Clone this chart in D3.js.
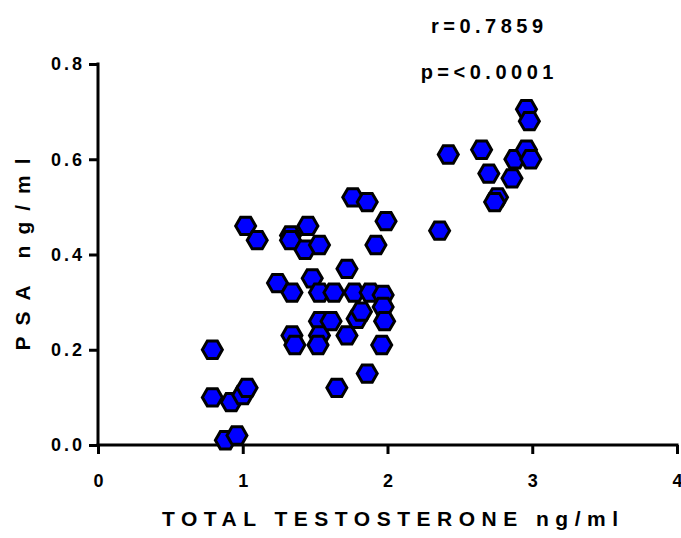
<!DOCTYPE html>
<html>
<head>
<meta charset="utf-8">
<script src="https://cdn.jsdelivr.net/npm/d3@7"></script>
<style>
  html, body { margin: 0; padding: 0; background: #fff; }
  text { font-family: "Liberation Sans", Arial, sans-serif; font-weight: bold; }
</style>
</head>
<body>
<div id="chart"></div>
<script>
// total testosterone (ng/ml) vs PSA (ng/ml)
const testosterone = [
  0.79, 0.79, 0.92, 1.00, 1.03, 0.88, 0.96, 1.02, 1.10, 1.24,
  1.33, 1.33, 1.34, 1.34, 1.36, 1.45, 1.43, 1.53, 1.48, 1.53,
  1.53, 1.53, 1.52, 1.61, 1.63, 1.65, 1.72, 1.72, 1.77, 1.76,
  1.79, 1.82, 1.86, 1.86, 1.88, 1.92, 1.99, 1.97, 1.97, 1.98,
  1.96, 2.36, 2.42, 2.65, 2.70, 2.76, 2.74, 2.86, 2.88, 2.96,
  2.99, 2.96, 2.98
];
const psa = [
  0.20, 0.10, 0.09, 0.105, 0.12, 0.01, 0.02, 0.46, 0.43, 0.34,
  0.44, 0.43, 0.32, 0.23, 0.21, 0.46, 0.41, 0.42, 0.35, 0.32,
  0.26, 0.23, 0.21, 0.26, 0.32, 0.12, 0.37, 0.23, 0.32, 0.52,
  0.265, 0.28, 0.15, 0.51, 0.32, 0.42, 0.47, 0.315, 0.29, 0.26,
  0.21, 0.45, 0.61, 0.62, 0.57, 0.52, 0.51, 0.56, 0.60, 0.62,
  0.60, 0.705, 0.68
];
const xTicks = [0, 1, 2, 3, 4];
const yTicks = [0.0, 0.2, 0.4, 0.6, 0.8];
const statLines = ["r=0.7859", "p=<0.0001"];

const width = 681, height = 538;
const margin = { top: 64, right: 4, bottom: 93, left: 98 };

const svg = d3.select('#chart').append('svg')
  .attr('width', width)
  .attr('height', height);

const x = d3.scaleLinear().domain([0, 4]).range([margin.left, width - margin.right]);
const y = d3.scaleLinear().domain([0, 0.8]).range([height - margin.bottom, margin.top]);

// axes
const tickSpacing = 3;
const xAxis = svg.append('g')
  .attr('transform', `translate(0,${y(0)})`)
  .call(d3.axisBottom(x).tickValues(xTicks).tickFormat(d3.format('d')).tickSize(9).tickPadding(20));
const yAxis = svg.append('g')
  .attr('transform', `translate(${x(0)},0)`)
  .call(d3.axisLeft(y).tickValues(yTicks).tickFormat(d3.format('.1f')).tickSize(9).tickPadding(4));

[xAxis, yAxis].forEach(g => {
  g.select('.domain').attr('stroke', '#000').attr('stroke-width', 3)
    .attr('stroke-linecap', 'square');
  g.selectAll('.tick line').attr('stroke', '#000').attr('stroke-width', 3);
  g.selectAll('.tick text')
    .attr('fill', '#000')
    .style('font-size', '18px')
    .style('font-family', '"Liberation Sans", Arial, sans-serif')
    .style('font-weight', 'bold');
});
yAxis.selectAll('.tick text').style('letter-spacing', tickSpacing + 'px');
// redraw domains without the outer ticks d3 adds
xAxis.select('.domain').attr('d', `M${x(0)},0H${x(4)}`);
yAxis.select('.domain').attr('d', `M0,${y(0)}V${y(0.8)}`);

// hexagon marker: points at left/right, flat top and bottom
const hexR = 10;
const hexPath = d3.line()(d3.range(6).map(i => {
  const a = Math.PI / 3 * i;
  return [hexR * Math.cos(a), hexR * Math.sin(a)];
})) + 'Z';

svg.append('g')
  .selectAll('path')
  .data(d3.range(testosterone.length))
  .join('path')
  .attr('d', hexPath)
  .attr('transform', i => `translate(${x(testosterone[i])},${y(psa[i])})`)
  .attr('fill', '#0000ff')
  .attr('stroke', '#000')
  .attr('stroke-width', 3)
  .attr('stroke-linejoin', 'miter');

// stats
const statSpacing = 4.5;
svg.selectAll('.stat')
  .data(statLines)
  .join('text')
  .attr('class', 'stat')
  .attr('x', 487)
  .attr('dx', statSpacing / 2)
  .attr('y', (d, i) => 33 + i * 46)
  .attr('text-anchor', 'middle')
  .style('font-size', '20px')
  .style('letter-spacing', statSpacing + 'px')
  .text(d => d);

// axis titles
const titleSpacing = 6.5;
svg.append('text')
  .attr('x', 390)
  .attr('dx', titleSpacing / 2)
  .attr('y', 526)
  .attr('text-anchor', 'middle')
  .style('font-size', '21px')
  .style('letter-spacing', titleSpacing + 'px')
  .text('TOTAL TESTOSTERONE ng/ml');

const ySpacing = 11;
svg.append('text')
  .attr('transform', `translate(30,${(y(0) + y(0.8)) / 2}) rotate(-90)`)
  .attr('dx', ySpacing / 2)
  .attr('text-anchor', 'middle')
  .style('font-size', '21px')
  .style('letter-spacing', ySpacing + 'px')
  .text('PSA ng/ml');
</script>
</body>
</html>
